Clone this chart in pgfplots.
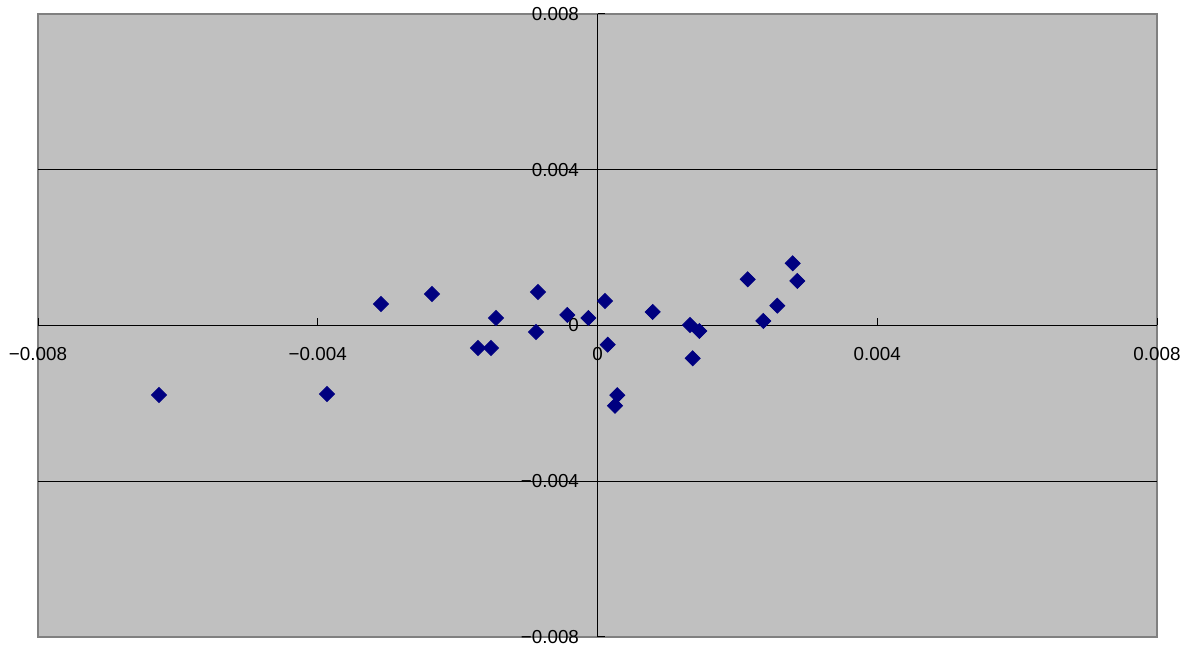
\documentclass[border=0pt]{standalone}
\usepackage{pgfplots}
\pgfplotsset{compat=1.18}
\usepackage{fontspec}
\setmainfont{Liberation Sans}
\definecolor{bgc}{HTML}{C0C0C0}
\definecolor{brd}{HTML}{808080}
\definecolor{mk}{HTML}{000080}
\begin{document}
\begin{tikzpicture}
\begin{axis}[
  scale only axis,
  width=559.5pt, height=311.5pt,
  xmin=-0.008, xmax=0.008, ymin=-0.008, ymax=0.008,
  axis x line=middle, axis y line=middle,
  axis line style={-, black, line width=0.5pt},
  axis background/.style={fill=bgc, draw=brd, line width=1pt},
  hide obscured x ticks=false, hide obscured y ticks=false,
  xtick={-0.008,-0.004,0,0.004,0.008},
  ytick={-0.008,-0.004,0,0.004,0.008},
  xticklabels={−0.008,−0.004,0,0.004,0.008},
  yticklabels={−0.008,−0.004,0,0.004,0.008},
  extra y ticks={-0.004,0.004},
  extra y tick labels={},
  extra y tick style={grid=major, major grid style={black, line width=0.5pt}},
  scaled ticks=false,
  tick align=inside,
  major tick length=3.5pt,
  tick style={black, line width=0.5pt},
  ticklabel style={font=\fontsize{9.4pt}{11pt}\selectfont},
  xticklabel style={yshift=-7.5pt},
  yticklabel style={xshift=-5.75pt},
  clip=false,
]
\addplot[only marks, mark=square*, mark size=2.65pt, mark options={rotate=45, fill=mk, draw=mk}] coordinates {
(-0.00627,-0.001785)
(-0.003868,-0.00176)
(-0.003096,0.000552)
(-0.002367,0.000809)
(-0.001709,-0.000578)
(-0.001523,-0.000578)
(-0.001451,0.000193)
(-0.000879,-0.000167)
(-0.000851,0.000860)
(-0.000432,0.000270)
(-0.000131,0.000193)
(0.000107,0.000629)
(0.000146,-0.000493)
(0.000283,-0.00179)
(0.000250,-0.00206)
(0.000789,0.000347)
(0.001323,0.000013)
(0.001456,-0.000141)
(0.001361,-0.000842)
(0.002148,0.001186)
(0.002371,0.000116)
(0.002571,0.000509)
(0.002791,0.001597)
(0.002857,0.001143)
};
\coordinate (bl) at (rel axis cs:0,0);
\coordinate (tr) at (rel axis cs:1,1);
\end{axis}
\pgfresetboundingbox
\path ([shift={(-19pt,-6.5pt)}]bl) rectangle ([shift={(19.5pt,7pt)}]tr);
\end{tikzpicture}
\end{document}
